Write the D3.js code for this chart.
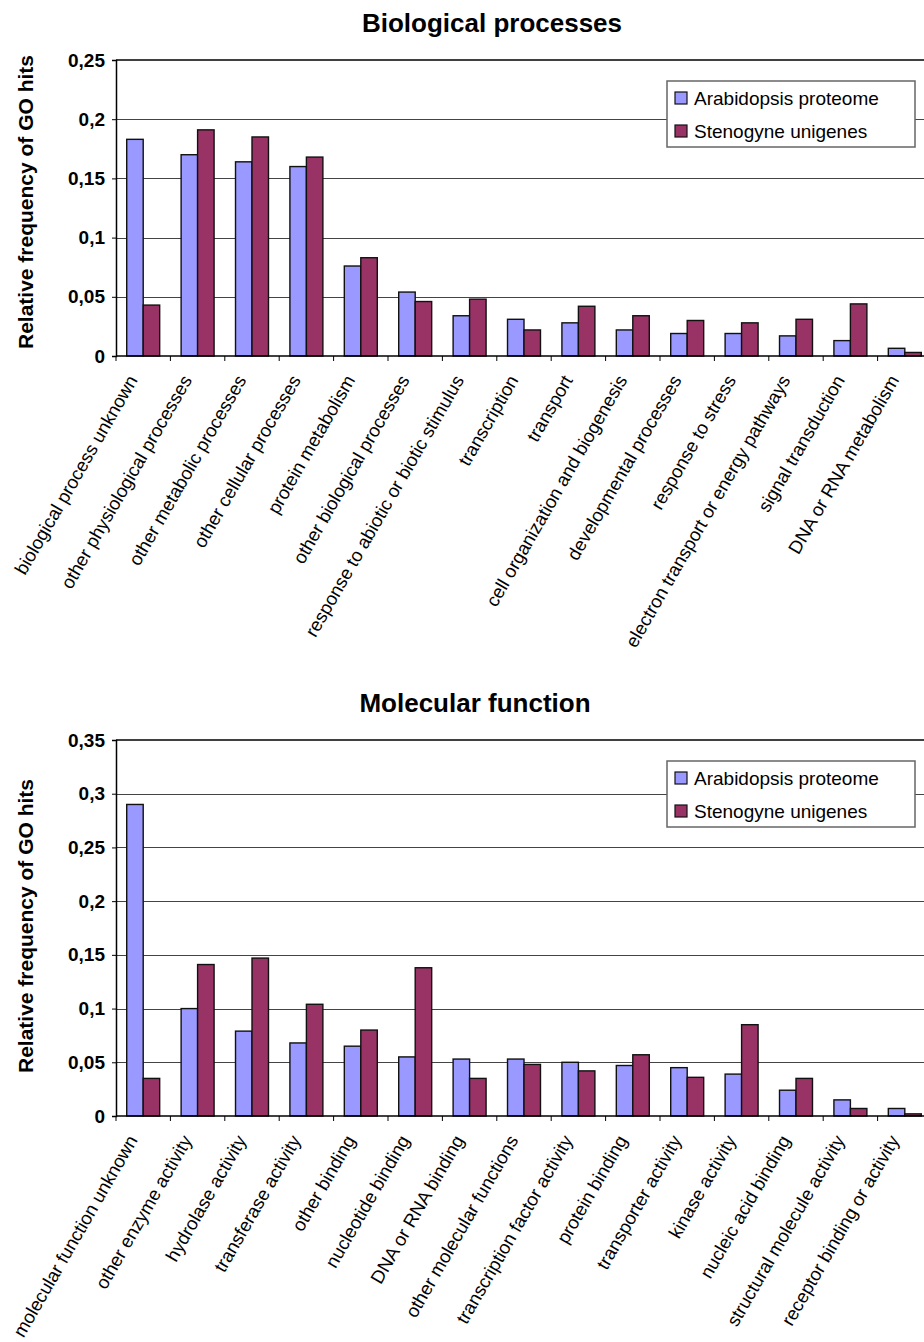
<!DOCTYPE html>
<html>
<head>
<meta charset="utf-8">
<script src="https://cdn.jsdelivr.net/npm/d3@7"></script>
<style>
  html, body { margin: 0; padding: 0; background: #fff; }
  svg { display: block; font-family: "Liberation Sans", Arial, sans-serif; }
</style>
</head>
<body>
<div id="chart"></div>
<script>
// series shared by both panels
const seriesNames = ['Arabidopsis proteome', 'Stenogyne unigenes'];
const seriesColors = ['#9999ff', '#993366'];

// Biological processes
const bpCategories = [
    'biological process unknown', 'other physiological processes', 'other metabolic processes',
    'other cellular processes', 'protein metabolism', 'other biological processes',
    'response to abiotic or biotic stimulus', 'transcription', 'transport',
    'cell organization and biogenesis', 'developmental processes', 'response to stress',
    'electron transport or energy pathways', 'signal transduction', 'DNA or RNA metabolism'
];
const bpArabidopsis = [0.183, 0.170, 0.164, 0.160, 0.076, 0.054, 0.034, 0.031, 0.028, 0.022, 0.019, 0.019, 0.017, 0.013, 0.0065];
const bpStenogyne   = [0.043, 0.191, 0.185, 0.168, 0.083, 0.046, 0.048, 0.022, 0.042, 0.034, 0.030, 0.028, 0.031, 0.044, 0.003];
const bpTicks = [0, 0.05, 0.1, 0.15, 0.2, 0.25];

// Molecular function
const mfCategories = [
    'molecular function unknown', 'other enzyme activity', 'hydrolase activity',
    'transferase activity', 'other binding', 'nucleotide binding', 'DNA or RNA binding',
    'other molecular functions', 'transcription factor activity', 'protein binding',
    'transporter activity', 'kinase activity', 'nucleic acid binding',
    'structural molecule activity', 'receptor binding or activity'
];
const mfArabidopsis = [0.290, 0.100, 0.079, 0.068, 0.065, 0.055, 0.053, 0.053, 0.050, 0.047, 0.045, 0.039, 0.024, 0.015, 0.007];
const mfStenogyne   = [0.035, 0.141, 0.147, 0.104, 0.080, 0.138, 0.035, 0.048, 0.042, 0.057, 0.036, 0.085, 0.035, 0.007, 0.002];
const mfTicks = [0, 0.05, 0.1, 0.15, 0.2, 0.25, 0.3, 0.35];

const W = 924, H = 1342;
const commaFmt = d3.formatLocale({ decimal: ',', thousands: '.', grouping: [3], currency: ['', ''] }).format('~g');

const svg = d3.select('#chart').append('svg')
    .attr('width', W)
    .attr('height', H)
    .attr('viewBox', [0, 0, W, H]);

/**
 * one grouped bar panel (Excel style)
 */
function drawPanel(cfg) {
    const g = svg.append('g');
    const left = 116, right = 932;

    const x0 = d3.scaleBand().domain(cfg.categories).range([left, right]).padding(0);
    const x1 = d3.scaleBand().domain(seriesNames).range([0, x0.bandwidth()])
        .paddingInner(0).paddingOuter(0.65);
    const y = d3.scaleLinear().domain([0, cfg.max]).range([cfg.bottom, cfg.top]);

    // title
    g.append('text')
        .attr('x', cfg.titleX)
        .attr('y', cfg.top - 28)
        .attr('text-anchor', 'middle')
        .style('font-size', '26px')
        .style('font-weight', 'bold')
        .text(cfg.title);

    // grid lines
    g.append('g').selectAll('line')
        .data(cfg.ticks.filter(t => t > 0 && t < cfg.max))
        .join('line')
        .attr('x1', left).attr('x2', right)
        .attr('y1', d => Math.round(y(d)) + 0.5).attr('y2', d => Math.round(y(d)) + 0.5)
        .attr('stroke', '#444')
        .attr('stroke-width', 1.2);

    // top border of plot area
    g.append('line')
        .attr('x1', left).attr('x2', right)
        .attr('y1', cfg.top).attr('y2', cfg.top)
        .attr('stroke', '#000').attr('stroke-width', 1.5);

    // bars
    const rows = cfg.categories.map((c, i) => ({ cat: c, vals: [cfg.a[i], cfg.b[i]] }));
    g.append('g').selectAll('g')
        .data(rows)
        .join('g')
        .attr('transform', d => `translate(${x0(d.cat)},0)`)
        .selectAll('rect')
        .data(d => d.vals.map((v, k) => ({ key: seriesNames[k], v, k })))
        .join('rect')
        .attr('x', d => x1(d.key))
        .attr('width', x1.bandwidth())
        .attr('y', d => y(d.v))
        .attr('height', d => y(0) - y(d.v))
        .attr('fill', d => seriesColors[d.k])
        .attr('stroke', '#111')
        .attr('stroke-width', 1.4);

    // y axis
    const yAxis = d3.axisLeft(y)
        .tickValues(cfg.ticks)
        .tickSize(4)
        .tickPadding(7)
        .tickFormat(commaFmt);
    const ya = g.append('g')
        .attr('transform', `translate(${left},0)`)
        .call(yAxis);
    ya.select('.domain').attr('stroke', '#000').attr('stroke-width', 1.5);
    ya.selectAll('.tick line').attr('stroke', '#000');
    ya.selectAll('.tick text')
        .attr('fill', '#000')
        .style('font-family', '"Liberation Sans", Arial, sans-serif')
        .style('font-size', '19px')
        .style('font-weight', 'bold');

    // x axis baseline + boundary ticks
    g.append('line')
        .attr('x1', left).attr('x2', right)
        .attr('y1', cfg.bottom).attr('y2', cfg.bottom)
        .attr('stroke', '#000').attr('stroke-width', 1.5);
    const bounds = cfg.categories.map(c => x0(c)).concat([right]);
    g.append('g').selectAll('line')
        .data(bounds)
        .join('line')
        .attr('x1', d => d).attr('x2', d => d)
        .attr('y1', cfg.bottom).attr('y2', cfg.bottom + 5)
        .attr('stroke', '#000').attr('stroke-width', 1);

    // rotated category labels
    g.append('g').selectAll('text')
        .data(cfg.categories)
        .join('text')
        .attr('transform', d => `translate(${x0(d) + x0.bandwidth() / 2 - 5},${cfg.bottom + 24}) rotate(-60)`)
        .attr('text-anchor', 'end')
        .style('font-size', '18.5px')
        .text(d => d);

    // y axis title
    g.append('text')
        .attr('transform', `translate(33,${(cfg.top + cfg.bottom) / 2 + cfg.yTitleShift}) rotate(-90)`)
        .attr('text-anchor', 'middle')
        .style('font-size', '21px')
        .style('font-weight', 'bold')
        .text('Relative frequency of GO hits');

    // legend
    const lg = g.append('g').attr('transform', `translate(667,${cfg.top + 21})`);
    lg.append('rect')
        .attr('width', 248).attr('height', 66)
        .attr('fill', '#fff')
        .attr('stroke', '#666').attr('stroke-width', 1.5);
    seriesNames.forEach((name, k) => {
        const row = lg.append('g').attr('transform', `translate(8,${17 + k * 33})`);
        row.append('rect')
            .attr('x', 0).attr('y', -6)
            .attr('width', 12).attr('height', 12)
            .attr('fill', seriesColors[k])
            .attr('stroke', '#111').attr('stroke-width', 1.2);
        row.append('text')
            .attr('x', 19).attr('y', 7)
            .style('font-size', '19px')
            .text(name);
    });
}

drawPanel({
    title: 'Biological processes', titleX: 492,
    categories: bpCategories, a: bpArabidopsis, b: bpStenogyne,
    ticks: bpTicks, max: 0.25, top: 60, bottom: 356, yTitleShift: -6
});

drawPanel({
    title: 'Molecular function', titleX: 475,
    categories: mfCategories, a: mfArabidopsis, b: mfStenogyne,
    ticks: mfTicks, max: 0.35, top: 740, bottom: 1116, yTitleShift: -2
});
</script>
</body>
</html>
